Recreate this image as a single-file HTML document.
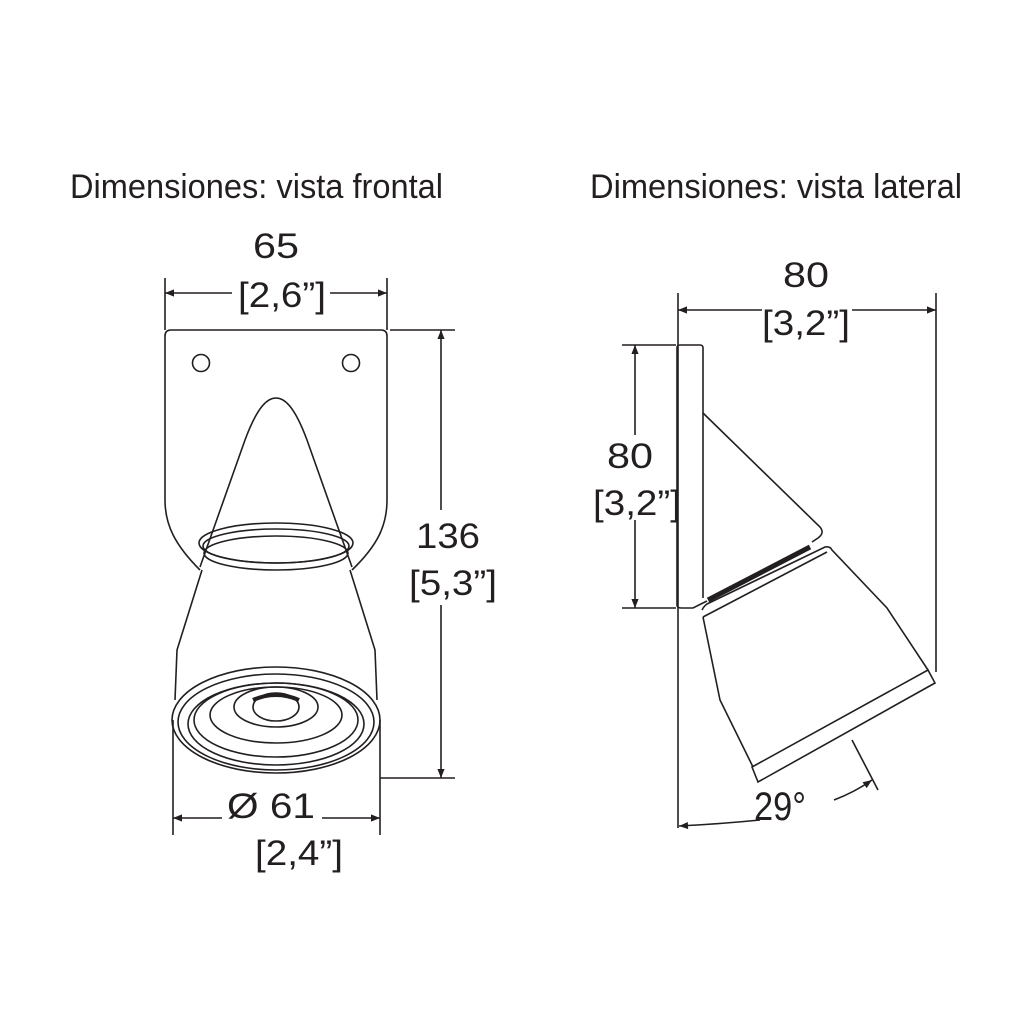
<!DOCTYPE html>
<html><head><meta charset="utf-8"><style>html,body{margin:0;padding:0;background:#fff}svg{display:block}</style></head>
<body>
<svg width="1024" height="1028" viewBox="0 0 1024 1028" xmlns="http://www.w3.org/2000/svg">
<defs>
<marker id="a" viewBox="0 0 10 10" refX="10" refY="5" markerWidth="14" markerHeight="9" orient="auto-start-reverse" markerUnits="userSpaceOnUse"><path d="M0,1 L10,5 L0,9 z" fill="#231f20"/></marker>
</defs>
<g font-family="Liberation Sans, sans-serif" fill="#231f20">
<text x="70" y="198" font-size="34" textLength="373" lengthAdjust="spacingAndGlyphs">Dimensiones: vista frontal</text>
<text x="590" y="198" font-size="34" textLength="372" lengthAdjust="spacingAndGlyphs">Dimensiones: vista lateral</text>
<g font-size="35" text-anchor="middle">
<text x="276" y="258" textLength="46" lengthAdjust="spacingAndGlyphs">65</text>
<text x="282" y="307" textLength="88" lengthAdjust="spacingAndGlyphs">[2,6”]</text>
<text x="448" y="548" textLength="64" lengthAdjust="spacingAndGlyphs">136</text>
<text x="453" y="595" textLength="88" lengthAdjust="spacingAndGlyphs">[5,3”]</text>
<text x="271" y="818" textLength="88" lengthAdjust="spacingAndGlyphs">Ø 61</text>
<text x="299" y="865" textLength="88" lengthAdjust="spacingAndGlyphs">[2,4”]</text>
<text x="806" y="287" textLength="46" lengthAdjust="spacingAndGlyphs">80</text>
<text x="806" y="335" textLength="88" lengthAdjust="spacingAndGlyphs">[3,2”]</text>
<text x="630" y="468" textLength="46" lengthAdjust="spacingAndGlyphs">80</text>
<text x="637" y="515" textLength="88" lengthAdjust="spacingAndGlyphs">[3,2”]</text>
<text x="780" y="820" font-size="40" textLength="52" lengthAdjust="spacingAndGlyphs">29°</text>
</g>
</g>
<g fill="none" stroke="#231f20" stroke-width="1.6">
<line x1="165" y1="278" x2="165" y2="330"/><line x1="387" y1="278" x2="387" y2="330"/>
<line x1="165" y1="293" x2="232" y2="293" marker-start="url(#a)"/><line x1="330" y1="293" x2="387" y2="293" marker-end="url(#a)"/>
<line x1="390" y1="330" x2="455" y2="330"/><line x1="380" y1="778" x2="455" y2="778"/>
<line x1="441" y1="330" x2="441" y2="510" marker-start="url(#a)"/><line x1="441" y1="605" x2="441" y2="778" marker-end="url(#a)"/>
<line x1="173" y1="720" x2="173" y2="835"/><line x1="380" y1="720" x2="380" y2="835"/>
<line x1="173" y1="818" x2="222" y2="818" marker-start="url(#a)"/><line x1="322" y1="818" x2="380" y2="818" marker-end="url(#a)"/>
<path d="M200,570 C175,545 165,525 165,500 L165,336 Q165,330 171,330 L381,330 Q387,330 387,336 L387,500 C387,525 378,545 352,570"/>
<circle cx="201" cy="363" r="8.5"/><circle cx="351" cy="363" r="8.5"/>
<path d="M200,567 L245,440 C258,405 268,398 276,398 C284,398 294,405 307,440 L352,567"/>
<ellipse cx="276" cy="543" rx="77" ry="20"/>
<ellipse cx="276" cy="546" rx="73" ry="17"/>
<ellipse cx="276" cy="553" rx="72" ry="17"/>
<path d="M202,570 L177,650 L175,700"/><path d="M350,570 L375,650 L377,700"/>
<ellipse cx="276" cy="720" rx="104" ry="53"/>
<ellipse cx="276" cy="722" rx="98" ry="48"/>
<ellipse cx="276" cy="724" rx="88" ry="41"/>
<ellipse cx="276" cy="720" rx="82" ry="37"/>
<ellipse cx="276" cy="715" rx="66" ry="28"/>
<ellipse cx="276" cy="707" rx="42" ry="20"/>
<ellipse cx="276" cy="707" rx="23" ry="14"/>
<path d="M253,700 Q276,690 299,700" stroke-width="4"/>
<line x1="678" y1="293" x2="678" y2="828"/><line x1="936" y1="293" x2="936" y2="672"/>
<line x1="678" y1="310" x2="762" y2="310" marker-start="url(#a)"/><line x1="852" y1="310" x2="936" y2="310" marker-end="url(#a)"/>
<line x1="622" y1="345" x2="676" y2="345"/><line x1="622" y1="608" x2="676" y2="608"/>
<line x1="635" y1="345" x2="635" y2="435" marker-start="url(#a)"/><line x1="635" y1="520" x2="635" y2="608" marker-end="url(#a)"/>
<path d="M677,348 Q677,345 680,345 L700,345 Q703,345 703,348 L703,598"/>
<path d="M677,348 L677,605 Q677,608 681,608 L693,608 L707,601"/>
<path d="M703,413 L820,527 Q825,533 818,538 L812,542"/>
<path d="M708,600 L810,547" stroke-width="5"/>
<path d="M702,610 Q704,606 707,604 L825,547 Q830,546 832,550 L887,608 L928,670"/>
<path d="M703,617 L827,552"/>
<path d="M703,617 L720,700 L753,767"/>
<path d="M928,670 L935,683 L758,782 L752,767 Z"/>
<line x1="852" y1="740" x2="878" y2="790"/>
<path d="M834,800 Q855,792 872,780" marker-end="url(#a)"/>
<path d="M760,820 Q720,824 679,826" marker-end="url(#a)"/>
</g>
</svg>
</body></html>
